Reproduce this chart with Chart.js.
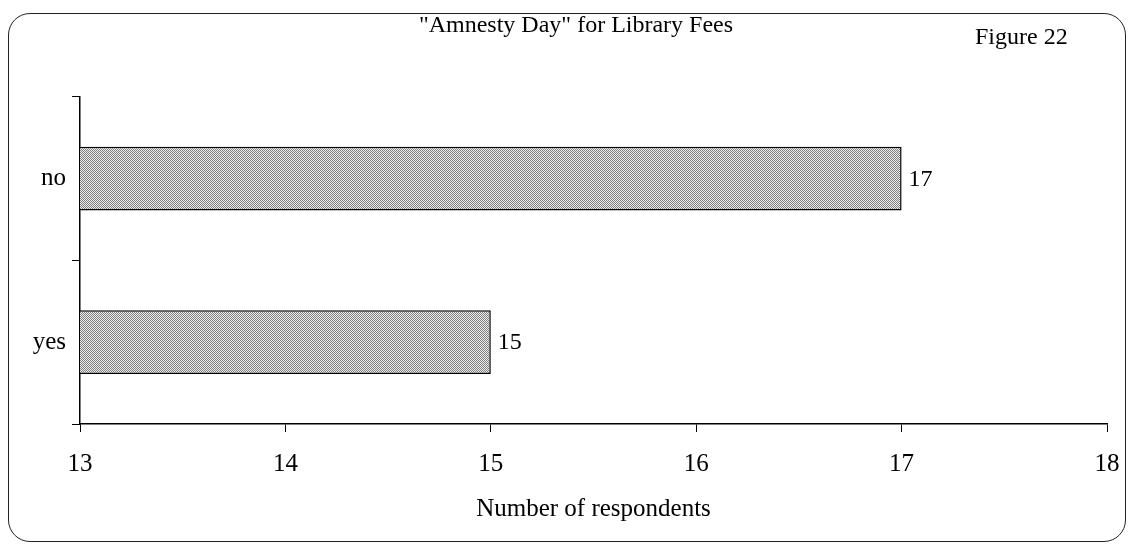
<!DOCTYPE html>
<html>
<head>
<meta charset="utf-8">
<script src="https://cdn.jsdelivr.net/npm/chart.js@4.4.1/dist/chart.umd.min.js"></script>
<style>
  html, body { margin: 0; background: #fff; overflow: hidden; }
  #wrap { position: relative; width: 1130px; height: 546px; }
  #chart { display: block; }
  #frame {
    position: absolute; left: 8px; top: 13px; width: 1116px; height: 527px;
    border: 1.5px solid #222; border-radius: 22px; pointer-events: none;
  }
  #fig {
    position: absolute; left: 975px; top: 23px;
    font: 24px "Liberation Serif", "DejaVu Serif", serif; color: #000;
  }
</style>
</head>
<body>
<div id="wrap">
  <canvas id="chart"></canvas>
  <div id="frame"></div>
  <div id="fig">Figure 22</div>
</div>
<script>
const categories = ['no', 'yes'];
const respondents = [17, 15];
const xTicks = [13, 14, 15, 16, 17, 18];

const serif = '"Liberation Serif", "DejaVu Serif", serif';

// dithered grey fill like the scanned original
function makePattern() {
  const c = document.createElement('canvas');
  c.width = 4; c.height = 4;
  const g = c.getContext('2d');
  g.fillStyle = '#ececec';
  g.fillRect(0, 0, 4, 4);
  g.fillStyle = '#808080';
  for (let y = 0; y < 4; y++) {
    for (let x = 0; x < 4; x++) {
      if ((x + y) % 2 === 0) g.fillRect(x, y, 1, 1);
    }
  }
  return g.createPattern(c, 'repeat');
}

// value labels at the end of each bar
const valueLabels = {
  id: 'valueLabels',
  afterDatasetsDraw(chart) {
    const ctx = chart.ctx;
    const meta = chart.getDatasetMeta(0);
    ctx.save();
    ctx.font = '24px ' + serif;
    ctx.fillStyle = '#000';
    ctx.textBaseline = 'middle';
    meta.data.forEach((bar, i) => {
      ctx.fillText(String(respondents[i]), bar.x + 7, bar.y + 1);
    });
    ctx.restore();
  }
};

new Chart(document.getElementById('chart'), {
  type: 'bar',
  data: {
    labels: categories,
    datasets: [{
      data: respondents,
      backgroundColor: makePattern(),
      borderColor: '#000',
      borderWidth: 1.5,
      borderSkipped: false,
      barPercentage: 0.39,
      categoryPercentage: 1
    }]
  },
  options: {
    indexAxis: 'y',
    responsive: true,
    maintainAspectRatio: false,
    animation: false,
    // left padding shifts the title centre right; y box keeps the plot left at 80
    layout: { padding: { left: 22, right: 0, top: 0, bottom: 0 } },
    scales: {
      x: {
        min: 13,
        max: 18,
        afterBuildTicks: s => { s.ticks = xTicks.map(v => ({ value: v })); },
        afterFit: s => { s.height = 122; s.paddingLeft = 0; s.paddingRight = 23; },
        grid: { drawOnChartArea: false, drawTicks: true, tickLength: 8, color: '#000' },
        border: { color: '#000', width: 1.5 },
        ticks: { color: '#000', padding: 17, font: { family: serif, size: 25 } },
        title: {
          display: true,
          text: 'Number of respondents',
          color: '#000',
          font: { family: serif, size: 25 },
          padding: { top: 4, bottom: 22 }
        }
      },
      y: {
        afterFit: s => { s.width = 58; },
        grid: { drawOnChartArea: false, drawTicks: true, tickLength: 8, color: '#000' },
        border: { color: '#000', width: 1.5 },
        ticks: { color: '#000', padding: 6, font: { family: serif, size: 25 } }
      }
    },
    plugins: {
      legend: { display: false },
      tooltip: { enabled: false },
      title: {
        display: true,
        text: '"Amnesty Day" for Library Fees',
        color: '#000',
        font: { family: serif, size: 24, weight: 'normal' },
        padding: { top: 11, bottom: 57 }
      }
    }
  },
  plugins: [valueLabels]
});
</script>
</body>
</html>
